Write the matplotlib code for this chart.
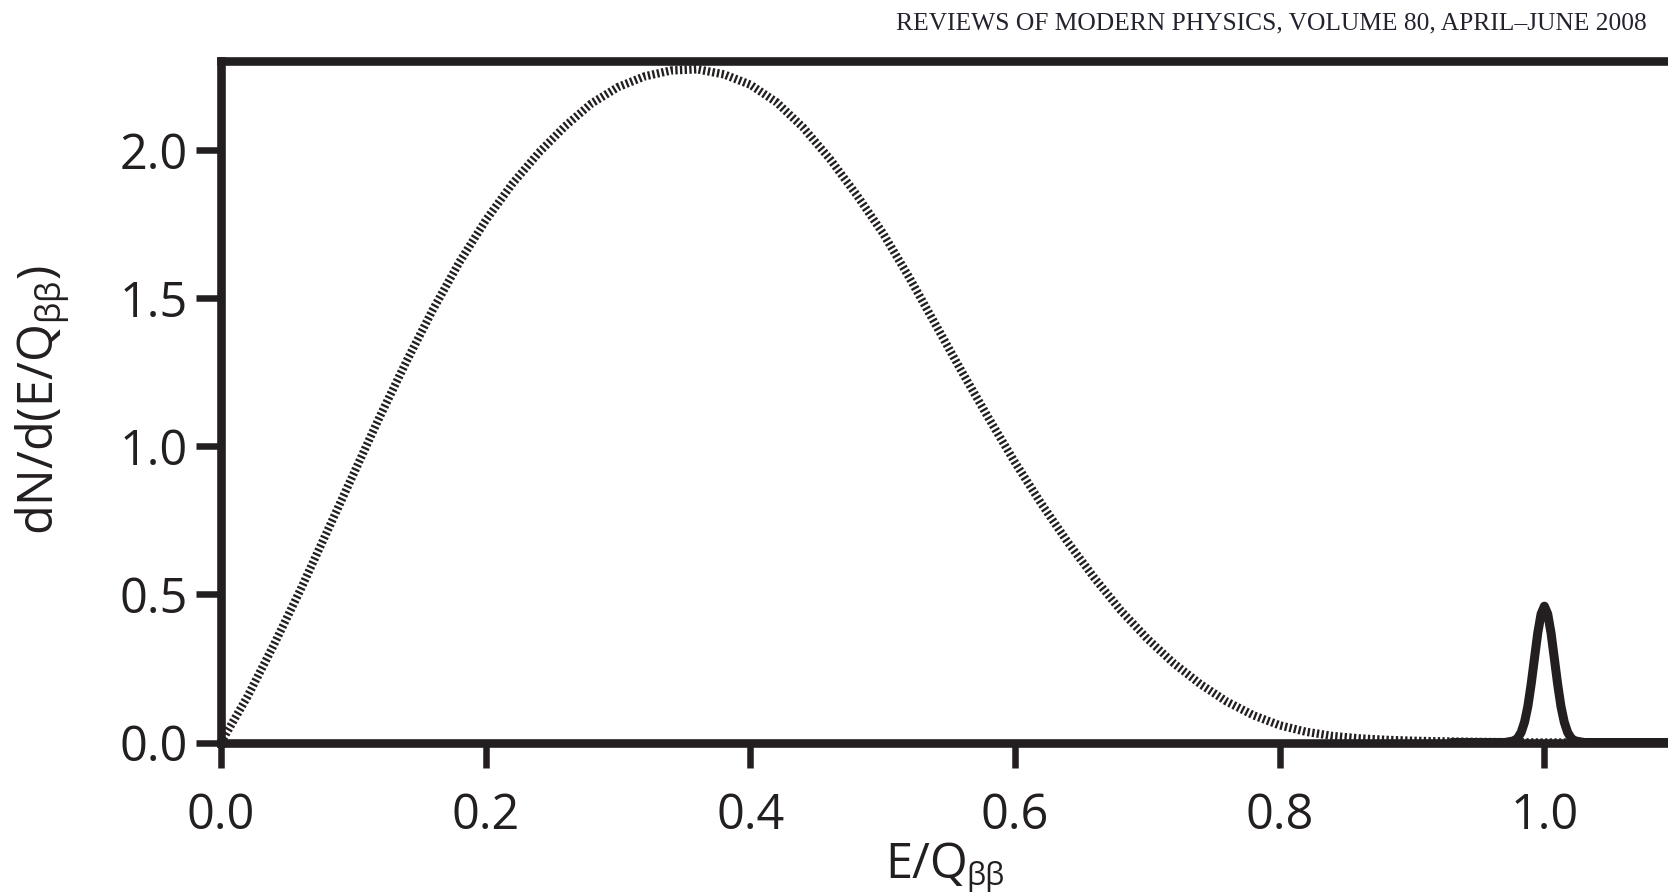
import matplotlib
matplotlib.use("Agg")
import matplotlib.pyplot as plt

plt.rcParams['font.family'] = ['Open Sans', 'DejaVu Sans']
plt.rcParams['mathtext.fontset'] = 'custom'
plt.rcParams['mathtext.rm'] = 'Open Sans'
plt.rcParams['mathtext.it'] = 'Open Sans:italic'
plt.rcParams['mathtext.bf'] = 'Open Sans:bold'

INK = '#231f20'

# Two-neutrino spectrum (summed electron energy)
e_2nu = [0.00, 0.02, 0.04, 0.06, 0.08, 0.10, 0.12, 0.14, 0.16, 0.18,
         0.20, 0.22, 0.24, 0.26, 0.28, 0.30, 0.32, 0.34, 0.36, 0.38,
         0.40, 0.42, 0.44, 0.46, 0.48, 0.50, 0.52, 0.54, 0.56, 0.58,
         0.60, 0.62, 0.64, 0.66, 0.68, 0.70, 0.72, 0.74, 0.76, 0.78,
         0.80, 0.82, 0.84, 0.86, 0.88, 0.90, 0.92, 0.95, 1.00, 1.10]
dn_2nu = [0.000, 0.155, 0.330, 0.515, 0.710, 0.905, 1.100, 1.285, 1.460, 1.620,
          1.762, 1.885, 1.990, 2.080, 2.157, 2.212, 2.248, 2.268, 2.272, 2.255,
          2.220, 2.160, 2.075, 1.970, 1.850, 1.720, 1.570, 1.410, 1.250, 1.095,
          0.945, 0.805, 0.675, 0.555, 0.445, 0.350, 0.267, 0.197, 0.138, 0.092,
          0.058, 0.036, 0.022, 0.014, 0.009, 0.006, 0.004, 0.002, 0.000, 0.000]

# Zero-neutrino line at the endpoint
e_0nu = [0.930, 0.970, 0.9775, 0.980, 0.9825, 0.985, 0.9875, 0.990, 0.9925,
         0.995, 0.9975, 1.000, 1.0025, 1.005, 1.0075, 1.010, 1.0125, 1.015,
         1.0175, 1.020, 1.0225, 1.030, 1.093]
dn_0nu = [0.000, 0.000, 0.006, 0.016, 0.035, 0.069, 0.122, 0.197, 0.284,
          0.370, 0.434, 0.460, 0.434, 0.370, 0.284, 0.197, 0.122, 0.069,
          0.035, 0.016, 0.006, 0.000, 0.000]

x_ticks = [0.0, 0.2, 0.4, 0.6, 0.8, 1.0]
x_ticklabels = ['0.0', '0.2', '0.4', '0.6', '0.8', '1.0']
y_ticks = [0.0, 0.5, 1.0, 1.5, 2.0]
y_ticklabels = ['0.0', '0.5', '1.0', '1.5', '2.0']

W, H = 1668, 893
fig = plt.figure(figsize=(W / 100, H / 100), dpi=100)
fig.patch.set_facecolor('white')

left_px, bottom_px, top_px = 221, 742.5, 61
ax = fig.add_axes([left_px / W, 1 - bottom_px / H, 1 - left_px / W,
                   (bottom_px - top_px) / H])
ax.set_xlim(0, (W - left_px) / 1323.4)
ax.set_ylim(0, 2.3)

ax.plot(e_2nu, dn_2nu, color=INK, lw=6.0, linestyle=(0, (0.28, 0.28)),
        dash_capstyle='butt', solid_joinstyle='round', zorder=2)
ax.plot(e_0nu, dn_0nu, color=INK, lw=6.5, solid_joinstyle='round',
        solid_capstyle='round', zorder=3)

for side in ('top', 'left', 'bottom'):
    ax.spines[side].set_linewidth(6.2)
    ax.spines[side].set_color(INK)
    ax.spines[side].set_zorder(4)
ax.spines['right'].set_visible(False)

ax.set_xticks(x_ticks)
ax.set_xticklabels(x_ticklabels)
ax.set_yticks(y_ticks)
ax.set_yticklabels(y_ticklabels)
ax.tick_params(direction='out', length=18, width=4.7, color=INK,
               labelcolor=INK, labelsize=35)
ax.tick_params(axis='x', pad=17)
ax.tick_params(axis='y', pad=6)
ax.tick_params(top=False, right=False)

# y-axis title
fig.text(42 / W, 1 - 400 / H, r'dN/d(E/Q$_{\mathrm{ββ}}$)', rotation=90,
         ha='center', va='center', fontsize=35, color=INK)

# x-axis title: main part plus a lowered subscript at the bottom edge
xt = fig.text(927 / W, 1 - 878 / H, 'E/Q', ha='center', va='baseline',
              fontsize=35, color=INK)
fig.canvas.draw()
bb = xt.get_window_extent()
fig.text(bb.x1 / W - 0.001, 1 - 885 / H, 'ββ', ha='left', va='baseline',
         fontsize=22, color=INK)

fig.text(1647 / W, 1 - 23 / H,
         'REVIEWS OF MODERN PHYSICS, VOLUME 80, APRIL–JUNE 2008',
         ha='right', va='center', fontsize=18.4, color='#24222e',
         family='Liberation Serif')

fig.savefig('out.png', dpi=100, facecolor='white')
